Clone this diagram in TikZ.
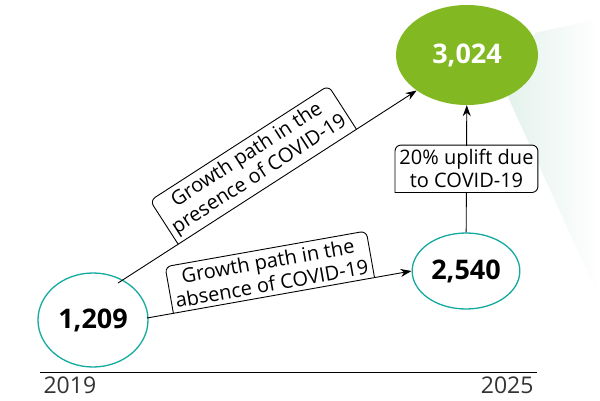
\documentclass[tikz,border=0pt]{standalone}
\usepackage{fontspec}
\setmainfont{Open Sans}
\usepackage{tikz}
\usetikzlibrary{arrows.meta,positioning,shapes.geometric}
\definecolor{tealring}{RGB}{20,170,160}
\definecolor{leafgreen}{RGB}{130,185,35}
\definecolor{mistgreen}{RGB}{228,242,236}
\tikzset{ringy/.style={draw=tealring,line width=1.3pt,ellipse,fill=white,font=\fontsize{27}{28}\selectfont\bfseries},
    tabby/.style={font=\fontsize{20}{23}\selectfont,align=center,inner sep=4pt},
    arrowy/.style={-{Stealth[length=11pt,width=8pt]},line width=0.9pt}
}
\begin{document}
\begin{tikzpicture}[x=1pt,y=-1pt]
\useasboundingbox (0,0) rectangle (600,400);

% faint backdrop
\shade[left color=mistgreen,right color=white] (535,33) -- (600,18) -- (600,300) -- (508,97) -- cycle;

\node (start) [ringy,minimum width=110pt,minimum height=94pt] at (93,320) {1,209};
\node (plain) [ringy,minimum width=106pt,minimum height=76pt] at (466,271) {2,540};
\node (covid) [ellipse,fill=leafgreen,text=white,minimum width=142pt,minimum height=100pt,
    font=\fontsize{27}{28}\selectfont\bfseries] at (467,55) {3,024};

\coordinate (upfrom) at (118,283);
\coordinate (lowfrom) at (147,318);

\draw [arrowy] (upfrom) -- node [pos=0.5,sloped,above,tabby] (uplbl) {Growth path in the\\presence of COVID-19} (covid.south west);
\draw [arrowy] (lowfrom) -- node [pos=0.48,sloped,above,tabby] (lowlbl) {Growth path in the\\absence of COVID-19} (plain.west);
\draw [arrowy] (plain) -- node [tabby,fill=white] (uplift) {20\% uplift due\\to COVID-19} (covid);

\foreach \lbl in {uplbl,lowlbl}
    \draw [line width=0.9pt,rounded corners=6pt] (\lbl.south west) -- (\lbl.north west) -- (\lbl.north east) -- (\lbl.south east);
\draw [line width=0.9pt,rounded corners=6pt] (uplift.south west) -- (uplift.north west) -- (uplift.north east) -- (uplift.south east) [sharp corners] -- cycle;

% time axis
\draw [line width=0.9pt] (40,372) coordinate (ax0) -- (537,372) coordinate (ax1);
\node (y19) [font=\fontsize{23}{25}\selectfont,text=black!80,below right=1pt and 0pt of ax0] {2019};
\node (y25) [font=\fontsize{23}{25}\selectfont,text=black!80,below left=1pt and 0pt of ax1] {2025};

\end{tikzpicture}
\end{document}
